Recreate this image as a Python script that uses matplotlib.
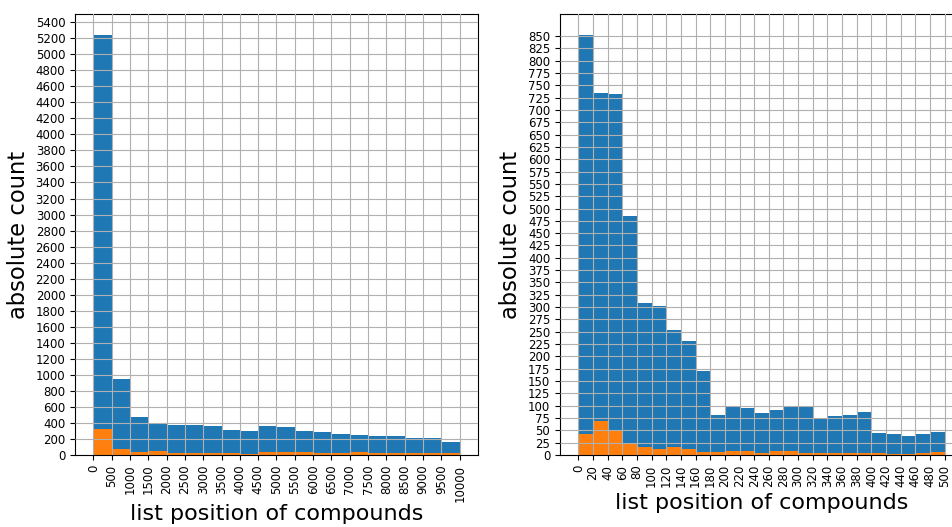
import numpy as np
import matplotlib
matplotlib.use("Agg")
import matplotlib.pyplot as plt

# Left histogram: bins of 500 from 0 to 10000
left_edges = list(range(0, 10001, 500))
left_all = [5240, 942, 471, 396, 371, 371, 358, 308, 296, 358,
            350, 300, 288, 267, 254, 233, 233, 212, 212, 162]
left_hit = [321, 71, 42, 50, 29, 29, 29, 21, 17, 33,
            33, 33, 29, 29, 33, 20, 20, 20, 20, 20]
left_yticks = list(range(0, 5401, 200))

# Right histogram: bins of 20 from 0 to 500
right_edges = list(range(0, 501, 20))
right_all = [852, 734, 732, 485, 309, 302, 254, 231, 171, 82,
             97, 95, 86, 92, 97, 97, 74, 79, 82, 87,
             45, 43, 39, 43, 46]
right_hit = [42, 68, 49, 25, 17, 12, 16, 12, 6, 7,
             9, 9, 5, 9, 9, 5, 5, 5, 5, 5,
             5, 3, 3, 5, 7]
right_yticks = list(range(0, 851, 25))

xlabel = "list position of compounds"
ylabel = "absolute count"

fig = plt.figure(figsize=(9.53, 5.27), dpi=100)
ax1 = fig.add_axes([75/953, 1-455/527, 403/953, 441/527])
ax2 = fig.add_axes([560/953, 1-455/527, 403/953, 441/527])

def draw(ax, edges, allv, hitv, yticks, pad):
    e = np.array(edges)
    lefts = e[:-1]
    ax.hist(lefts, bins=e, weights=allv, color="#1f77b4")
    ax.hist(lefts, bins=e, weights=hitv, color="#ff7f0e")
    ax.set_xticks(edges)
    ax.set_xticklabels([str(v) for v in edges], rotation=90, fontsize=8.5)
    ax.set_yticks(yticks)
    ax.set_yticklabels([str(v) for v in yticks], fontsize=8.5)
    ax.grid(True, color="#b0b0b0", linewidth=0.8)
    ax.set_axisbelow(False)
    ax.set_xlabel(xlabel, fontsize=16, labelpad=pad)
    ax.set_ylabel(ylabel, fontsize=16.3)
    ax.set_ylim(0, max(allv) * 1.05)

draw(ax1, left_edges, left_all, left_hit, left_yticks, 1.5)
draw(ax2, right_edges, right_all, right_hit, right_yticks, 4)

fig.savefig("out.png", dpi=100)
